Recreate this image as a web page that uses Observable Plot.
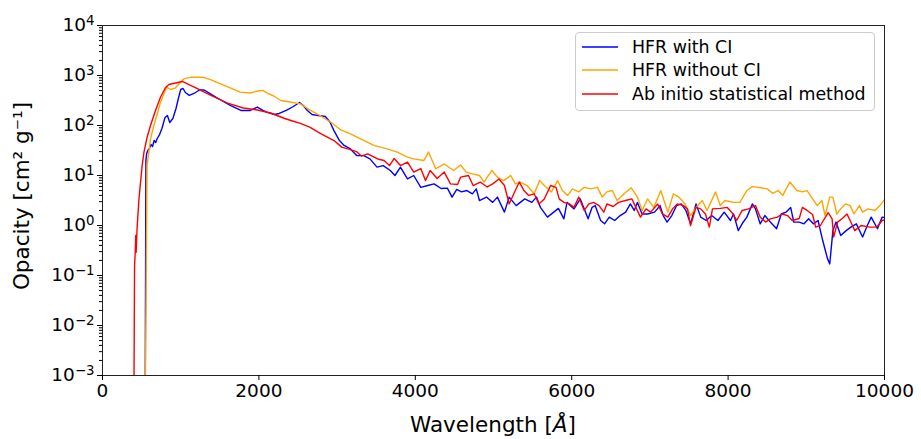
<!DOCTYPE html>
<html>
<head>
<meta charset="utf-8">
<script src="https://cdn.jsdelivr.net/npm/d3@7"></script>
<script src="https://cdn.jsdelivr.net/npm/@observablehq/plot@0.6"></script>
<style>
  html, body { margin: 0; padding: 0; background: #fff; }
  #wrap { position: relative; width: 921px; height: 439px; font-family: "DejaVu Sans", sans-serif; }
  #legend {
    position: absolute; left: 575px; top: 32px; width: 300px; height: 79px;
    box-sizing: border-box; border: 1px solid #cccccc; border-radius: 4px;
    background: rgba(255,255,255,0.8); padding-top: 2px; font-size: 17.4px; color: #000;
  }
  .row { display: flex; align-items: center; height: 23.5px; }
  .row svg { margin-left: 6px; margin-right: 14px; flex: none; }
</style>
</head>
<body>
<div id="wrap"></div>
<script>
// ---- data (wavelength in Å, opacity in cm^2 g^-1) ----
const seriesNames = ["HFR with CI", "HFR without CI", "Ab initio statistical method"];
const seriesColors = ["#0000ff", "#ffa500", "#ff0000"];

const hfrWithCI = [[545,1e-4],[555,20],[565,27.5],[580,31.6],[600,34.7],[620,41.7],[640,38],[660,50],[680,45.7],[700,55],[730,66],[760,87],[800,145],[830,158],[860,115],[900,138],[940,219],[970,347],[1000,525],[1030,550],[1060,457],[1110,400],[1170,437],[1240,513],[1300,513],[1380,430],[1500,331],[1640,251],[1770,200],[1890,200],[1980,234],[2050,200],[2100,185],[2200,166],[2260,174],[2350,200],[2440,240],[2520,288],[2560,257],[2620,200],[2680,166],[2760,158],[2850,151],[2910,116],[2960,79],[3030,50],[3090,40],[3170,34],[3250,25],[3340,25],[3420,21.5],[3510,14.7],[3590,15.8],[3680,12.6],[3740,10],[3810,14.7],[3900,8.6],[3980,10],[4070,5.8],[4160,6.3],[4240,6.8],[4330,5.5],[4410,5.6],[4470,3.7],[4530,5.25],[4590,4.7],[4660,5.0],[4730,4.3],[4780,5.4],[4820,3.16],[4910,3.7],[4990,2.9],[5050,3.7],[5140,1.85],[5200,3.7],[5290,2.5],[5400,3.4],[5490,2.9],[5550,3.7],[5600,2.3],[5690,1.47],[5770,1.85],[5830,2.2],[5900,1.36],[5940,2.9],[6030,2.15],[6110,3.4],[6210,1.36],[6260,2.3],[6300,2.5],[6370,1.26],[6420,1.08],[6480,1.47],[6550,1.26],[6620,1.58],[6690,1.85],[6750,2.7],[6800,2.0],[6840,2.9],[6900,1.7],[6970,1.7],[7060,1.85],[7130,2.5],[7170,1.58],[7220,1.17],[7280,1.58],[7340,2.5],[7400,2.7],[7460,2.0],[7520,1.08],[7590,2.7],[7650,1.47],[7720,1.26],[7790,1.58],[7870,1.26],[7950,1.85],[8030,1.26],[8070,1.7],[8130,0.79],[8190,1.15],[8240,1.47],[8310,2.7],[8350,2.15],[8410,1.08],[8470,1.58],[8540,1.17],[8620,0.86],[8680,1.7],[8740,1.85],[8800,2.3],[8840,1.17],[8910,1.17],[8970,1.08],[9030,1.36],[9090,1.08],[9150,1.26],[9210,0.5],[9270,0.22],[9300,0.17],[9340,0.79],[9380,1.17],[9440,0.63],[9510,0.79],[9570,0.93],[9640,1.08],[9720,0.59],[9780,1.0],[9830,1.47],[9910,0.86],[9970,1.47],[10000,1.45]];

const hfrWithoutCI = [[545,1e-4],[570,15.8],[614,54],[657,100],[700,170],[742,293],[785,430],[820,585],[870,525],[930,560],[1000,735],[1040,855],[1130,925],[1280,925],[1380,830],[1510,680],[1640,560],[1760,465],[1890,447],[1980,490],[2050,505],[2100,450],[2190,389],[2280,316],[2400,295],[2530,270],[2660,200],[2790,155],[2920,116],[3040,83],[3170,68],[3300,54],[3470,40],[3640,34],[3770,29.4],[3900,23.3],[3980,21.5],[4110,20],[4170,29.4],[4260,13.6],[4370,17],[4490,12.6],[4580,16.2],[4650,11.7],[4730,10.8],[4820,10],[4880,7.4],[4920,9.3],[4980,12.6],[5050,9.3],[5130,7.9],[5220,10],[5280,6.8],[5340,7.4],[5430,6.3],[5520,4.3],[5590,7.9],[5650,6.3],[5740,4.7],[5820,7.9],[5880,5.0],[5950,4.0],[6010,5.4],[6090,4.7],[6160,5.8],[6240,5.4],[6330,5.8],[6390,3.7],[6450,4.7],[6520,5.0],[6580,3.16],[6670,4.3],[6760,5.7],[6840,3.7],[6900,2.0],[6970,3.4],[7050,2.3],[7140,5.0],[7180,3.16],[7230,1.85],[7300,4.3],[7370,3.7],[7450,2.7],[7520,1.58],[7590,2.3],[7670,3.16],[7730,2.0],[7840,4.7],[7900,2.5],[7960,3.16],[8070,2.9],[8150,2.9],[8240,5.0],[8310,6.0],[8420,5.7],[8500,5.4],[8570,4.4],[8640,5.0],[8700,4.0],[8790,7.4],[8880,5.0],[8950,4.7],[9010,5.0],[9080,3.4],[9140,2.5],[9200,3.16],[9240,1.58],[9300,3.7],[9340,3.7],[9390,1.7],[9440,2.15],[9500,2.7],[9560,2.5],[9610,1.7],[9680,2.5],[9720,1.85],[9790,2.15],[9880,2.0],[9940,2.5],[10000,3.3]];

const abInitio = [[400,1e-4],[410,0.16],[420,0.32],[425,0.63],[430,0.29],[436,0.5],[443,0.91],[465,3.2],[507,15.8],[530,29],[570,58],[614,100],[678,200],[740,363],[806,575],[850,660],[1020,760],[1200,562],[1380,407],[1600,280],[1800,224],[1980,204],[2150,178],[2330,138],[2430,123],[2530,110],[2650,93],[2790,69],[2960,50],[3060,37],[3170,33],[3250,30],[3310,24.5],[3390,27],[3520,21.4],[3600,20],[3670,15.8],[3730,21.9],[3810,15.8],[3900,18.6],[3980,11.7],[4070,13.8],[4130,7.9],[4190,12.6],[4280,8.7],[4370,11.7],[4450,6.8],[4540,6.6],[4580,9.3],[4680,10],[4740,6.3],[4830,7.4],[4920,5.9],[4990,6.8],[5070,8.5],[5140,6.3],[5200,2.7],[5260,4.3],[5330,7.4],[5390,5.0],[5450,4.0],[5520,4.3],[5580,2.7],[5650,3.4],[5730,6.3],[5800,5.8],[5840,3.4],[5900,2.9],[5970,2.7],[6030,2.3],[6090,3.7],[6160,2.0],[6220,2.7],[6280,2.9],[6350,2.5],[6410,1.85],[6450,2.7],[6530,2.4],[6600,2.9],[6700,3.2],[6770,3.4],[6820,2.3],[6880,1.47],[6950,2.15],[7010,1.85],[7100,2.7],[7160,1.7],[7230,1.47],[7290,2.15],[7350,2.7],[7430,2.5],[7480,2.15],[7520,1.0],[7590,2.3],[7650,2.15],[7710,1.7],[7760,0.93],[7800,2.15],[7900,2.2],[7990,2.3],[8050,1.8],[8110,1.26],[8180,2.0],[8260,2.15],[8350,2.5],[8410,1.47],[8480,1.17],[8540,1.36],[8630,1.47],[8690,1.7],[8760,1.58],[8820,1.26],[8910,1.38],[8950,2.3],[9010,2.0],[9080,1.66],[9120,0.93],[9180,1.0],[9280,1.8],[9330,1.36],[9350,0.59],[9400,1.17],[9460,1.38],[9520,1.7],[9560,1.26],[9620,0.79],[9700,1.0],[9810,0.93],[9900,0.93],[9970,1.26],[10000,1.3]];

const xTicks = [0, 2000, 4000, 6000, 8000, 10000];
const yExponents = [-3, -2, -1, 0, 1, 2, 3, 4];
const minorMultipliers = [2, 3, 4, 5, 6, 7, 8, 9];
const xLabel = "Wavelength [";
const xLabelUnit = "Å";
const yLabel = "Opacity [cm² g⁻¹]";

// ---- build ----
const yTicks = yExponents.map(e => Math.pow(10, e));
const yMinor = yExponents.slice(0, -1).flatMap(e => minorMultipliers.map(m => m * Math.pow(10, e)));
const seriesData = [hfrWithCI, hfrWithoutCI, abInitio];

const W = 921, H = 439, mL = 102, mR = 37, mT = 25, mB = 64;
const tickFont = 18.5, labelFont = 21.5;

const chart = Plot.plot({
  width: W, height: H,
  marginLeft: mL, marginRight: mR, marginTop: mT, marginBottom: mB,
  style: { fontFamily: "DejaVu Sans, sans-serif", fontSize: tickFont + "px", background: "#fff", color: "#000", overflow: "visible" },
  x: { domain: [0, 10000] },
  y: { type: "log", domain: [1e-3, 1e4] },
  marks: [
    ...seriesData.map((s, i) => Plot.line(s, { x: d => d[0], y: d => d[1], stroke: seriesColors[i], strokeWidth: 1.4, clip: true })),
    Plot.frame({ stroke: "#222", strokeWidth: 1 }),
    Plot.axisX({ ticks: xTicks, tickSize: 5, tickPadding: 3, tickFormat: d => String(d), label: null, fontSize: tickFont }),
    Plot.axisY({ ticks: yMinor, tickSize: 3, tickFormat: () => "", label: null }),
    Plot.axisY({ ticks: yTicks, tickSize: 5, tickPadding: 3, tickFormat: d => "10|" + String(Math.round(Math.log10(d))).replace("-", "\u2212"), label: null, fontSize: tickFont })
  ]
});

// superscript exponents on y tick labels
d3.select(chart).selectAll("text").each(function () {
  const s = this.textContent;
  if (s.includes("|")) {
    const [base, exp] = s.split("|");
    const t = d3.select(this);
    t.text(null);
    t.append("tspan").text(base);
    t.append("tspan").attr("dy", "-0.5em").attr("font-size", "0.72em").text(exp);
  }
});

// axis titles
const svg = d3.select(chart);
const xt = svg.append("text")
  .attr("x", mL + (W - mL - mR) / 2).attr("y", H - 7)
  .attr("text-anchor", "middle").attr("font-size", labelFont).attr("fill", "#000");
xt.append("tspan").text(xLabel);
xt.append("tspan").attr("font-style", "italic").text(xLabelUnit);
xt.append("tspan").text("]");

svg.append("text")
  .attr("transform", `translate(29, ${mT + (H - mT - mB) / 2 - 4}) rotate(-90)`)
  .attr("text-anchor", "middle").attr("font-size", labelFont).attr("fill", "#000")
  .text(yLabel);

const wrap = document.getElementById("wrap");
wrap.appendChild(chart);

// legend (inside plot area, upper right)
const legend = document.createElement("div");
legend.id = "legend";
seriesNames.forEach((name, i) => {
  const row = document.createElement("div");
  row.className = "row";
  const ns = "http://www.w3.org/2000/svg";
  const sw = document.createElementNS(ns, "svg");
  sw.setAttribute("width", "36"); sw.setAttribute("height", "4");
  const ln = document.createElementNS(ns, "line");
  ln.setAttribute("x1", "0"); ln.setAttribute("x2", "36");
  ln.setAttribute("y1", "2"); ln.setAttribute("y2", "2");
  ln.setAttribute("stroke", seriesColors[i]); ln.setAttribute("stroke-width", "1.4");
  sw.appendChild(ln);
  const lab = document.createElement("span");
  lab.textContent = name;
  row.appendChild(sw); row.appendChild(lab);
  legend.appendChild(row);
});
wrap.appendChild(legend);
</script>
</body>
</html>
